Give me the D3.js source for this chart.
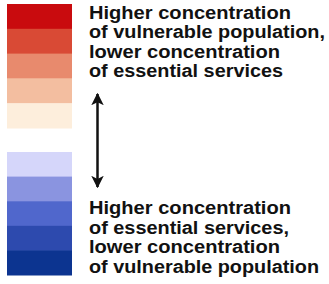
<!DOCTYPE html>
<html>
<head>
<meta charset="utf-8">
<script src="https://cdn.jsdelivr.net/npm/d3@7"></script>
<style>
  html, body { margin: 0; padding: 0; background: #ffffff; }
  svg { display: block; }
</style>
</head>
<body>
<svg id="chart" width="329" height="284"></svg>
<script>
// Data
const redSteps = [1, 2, 3, 4, 5];
const redColors = ["#c90b0e", "#d94a35", "#e88a6d", "#f3bea0", "#fdeedc"];
const blueSteps = [1, 2, 3, 4, 5];
const blueColors = ["#d5d6fa", "#8a94e0", "#5067cc", "#2d4aae", "#0c3490"];
const topLabel = ["Higher concentration", "of vulnerable population,", "lower concentration", "of essential services"];
const bottomLabel = ["Higher concentration", "of essential services,", "lower concentration", "of vulnerable population"];

const svg = d3.select("#chart");

const yRed = d3.scaleBand().domain(redSteps).range([4, 128]).padding(0);
const yBlue = d3.scaleBand().domain(blueSteps).range([152, 275]).padding(0);
const x0 = 7, w = 65;

svg.append("g").selectAll("rect").data(redSteps).join("rect")
  .attr("x", x0).attr("y", d => yRed(d))
  .attr("width", w).attr("height", yRed.bandwidth() + 0.5)
  .attr("fill", (d, i) => redColors[i]);

svg.append("g").selectAll("rect").data(blueSteps).join("rect")
  .attr("x", x0).attr("y", d => yBlue(d))
  .attr("width", w).attr("height", yBlue.bandwidth() + 0.5)
  .attr("fill", (d, i) => blueColors[i]);

// Arrow
const defs = svg.append("defs");
defs.append("marker").attr("id", "ah").attr("viewBox", "0 0 10 10")
  .attr("refX", 9).attr("refY", 5).attr("markerWidth", 5).attr("markerHeight", 5)
  .attr("markerUnits", "strokeWidth").attr("orient", "auto-start-reverse")
  .append("path").attr("d", "M0,0 L10,5 L0,10 L2.5,5 Z").attr("fill", "#111");

svg.append("line").attr("x1", 97.5).attr("x2", 97.5).attr("y1", 94).attr("y2", 187)
  .attr("stroke", "#111").attr("stroke-width", 2.5)
  .attr("marker-start", "url(#ah)").attr("marker-end", "url(#ah)");

function drawLabel(lines, baseY, widths) {
  const g = svg.append("g");
  g.selectAll("text").data(lines).join("text")
    .attr("x", 89).attr("y", (d, i) => baseY + i * 19.6)
    .attr("font-family", "'Liberation Sans', Arial, sans-serif")
    .attr("font-weight", "bold").attr("font-size", 18)
    .attr("fill", "#111")
    .text(d => d)
    .each(function(d, i) {
      if (widths[i]) {
        d3.select(this).attr("textLength", widths[i]).attr("lengthAdjust", "spacingAndGlyphs");
      }
    });
}
drawLabel(topLabel, 18.5, [202, 236, 191, 194]);
drawLabel(bottomLabel, 214, [202, 200, 191, 230]);
</script>
</body>
</html>
